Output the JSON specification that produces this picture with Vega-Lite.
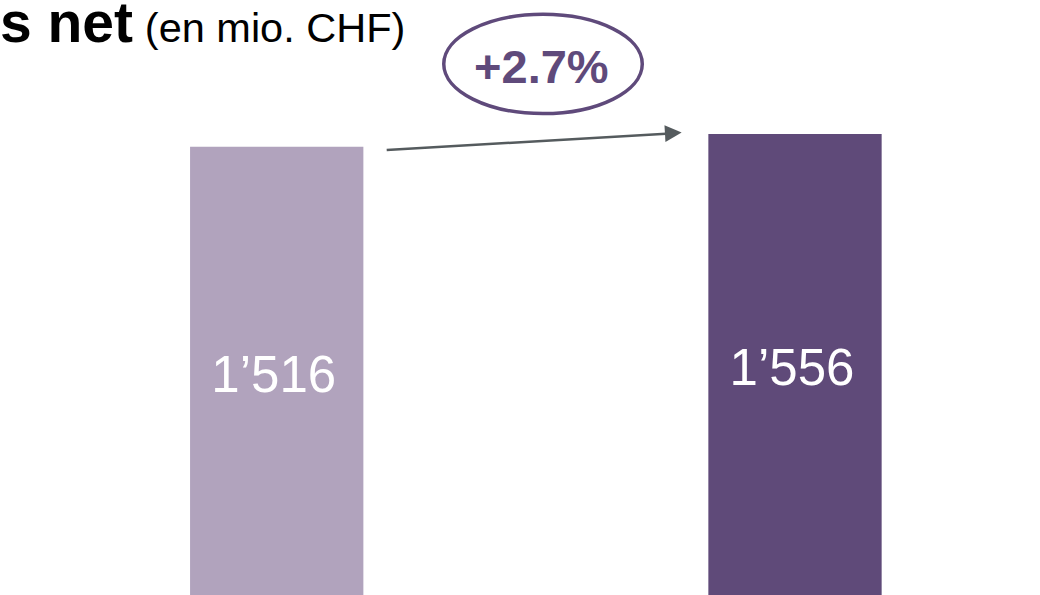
{
  "$schema": "https://vega.github.io/schema/vega-lite/v6.json",
  "width": 1040,
  "height": 595,
  "autosize": "none",
  "padding": 0,
  "background": "white",
  "config": {"view": {"stroke": null}, "font": "Liberation Sans"},
  "resolve": {"scale": {"y": "independent"}},
  "datasets": {
    "bars": [
      {"period": 0, "value": 1516, "label": "1’516"},
      {"period": 1, "value": 1556, "label": "1’556"}
    ],
    "arrow": [
      {"x": 0.2122, "y": 1505.6, "x2": 0.7511, "y2": 1556.6}
    ],
    "head": [
      {"x": 0.7652, "y": 1558.8}
    ],
    "badge": [
      {"x": 0.5138, "y": 1776.5, "tx": 0.5106, "ty": 1715.6, "text": "+2.7%"}
    ],
    "titles": [
      {"x": -0.5339, "y": 1846.7, "text": "s net", "part": "main"},
      {"x": -0.2545, "y": 1846.7, "text": "(en mio. CHF)", "part": "unit"}
    ]
  },
  "layer": [
    {
      "data": {"name": "bars"},
      "mark": {"type": "bar", "width": 173.3, "clip": true},
      "encoding": {
        "x": {"field": "period", "type": "quantitative", "scale": {"domain": [-0.5339, 1.4727], "nice": false, "zero": false, "padding": 0}, "axis": null},
        "y": {"field": "value", "type": "quantitative", "scale": {"domain": [104, 1978], "nice": false, "zero": false, "padding": 0}, "axis": null},
        "color": {"field": "period", "type": "nominal", "scale": {"range": ["#B1A3BD", "#5F4A79"]}, "legend": null}
      }
    },
    {
      "data": {"name": "bars"},
      "mark": {"type": "text", "fontSize": 51, "fill": "#FFFFFF", "align": "center", "baseline": "alphabetic", "dx": -3},
      "encoding": {
        "x": {"field": "period", "type": "quantitative", "scale": {"domain": [-0.5339, 1.4727], "nice": false, "zero": false, "padding": 0}, "axis": null},
        "y": {"field": "value", "type": "quantitative", "scale": {"domain": [302, 3854], "nice": false, "zero": false, "padding": 0}, "axis": null},
        "text": {"field": "label"}
      }
    },
    {
      "data": {"name": "arrow"},
      "mark": {"type": "rule", "stroke": "#555B5E", "strokeWidth": 2.5},
      "encoding": {
        "x": {"field": "x", "type": "quantitative", "scale": {"domain": [-0.5339, 1.4727], "nice": false, "zero": false, "padding": 0}, "axis": null},
        "y": {"field": "y", "type": "quantitative", "scale": {"domain": [104, 1978], "nice": false, "zero": false, "padding": 0}, "axis": null},
        "x2": {"field": "x2"},
        "y2": {"field": "y2"}
      }
    },
    {
      "data": {"name": "head"},
      "mark": {"type": "point", "shape": "M -1 -1 L 1 0 L -1 1 Z", "size": 279, "angle": -3.36, "filled": true, "fill": "#555B5E", "opacity": 1, "strokeWidth": 0},
      "encoding": {
        "x": {"field": "x", "type": "quantitative", "scale": {"domain": [-0.5339, 1.4727], "nice": false, "zero": false, "padding": 0}, "axis": null},
        "y": {"field": "y", "type": "quantitative", "scale": {"domain": [104, 1978], "nice": false, "zero": false, "padding": 0}, "axis": null}
      }
    },
    {
      "data": {"name": "badge"},
      "mark": {"type": "point", "shape": "M -1 0 C -1 -0.2762 -0.5523 -0.5 0 -0.5 C 0.5523 -0.5 1 -0.2762 1 0 C 1 0.2762 0.5523 0.5 0 0.5 C -0.5523 0.5 -1 0.2762 -1 0 Z", "size": 39402, "filled": false, "stroke": "#5F4A7B", "strokeWidth": 3.5, "opacity": 1},
      "encoding": {
        "x": {"field": "x", "type": "quantitative", "scale": {"domain": [-0.5339, 1.4727], "nice": false, "zero": false, "padding": 0}, "axis": null},
        "y": {"field": "y", "type": "quantitative", "scale": {"domain": [104, 1978], "nice": false, "zero": false, "padding": 0}, "axis": null}
      }
    },
    {
      "data": {"name": "badge"},
      "mark": {"type": "text", "fontSize": 47, "fontWeight": "bold", "fill": "#5F4A7B", "align": "center", "baseline": "alphabetic"},
      "encoding": {
        "x": {"field": "tx", "type": "quantitative", "scale": {"domain": [-0.5339, 1.4727], "nice": false, "zero": false, "padding": 0}, "axis": null},
        "y": {"field": "ty", "type": "quantitative", "scale": {"domain": [104, 1978], "nice": false, "zero": false, "padding": 0}, "axis": null},
        "text": {"field": "text"}
      }
    },
    {
      "data": {"name": "titles"},
      "transform": [{"filter": "datum.part === 'main'"}],
      "mark": {"type": "text", "fontSize": 57, "fontWeight": "bold", "fill": "#000000", "align": "left", "baseline": "alphabetic"},
      "encoding": {
        "x": {"field": "x", "type": "quantitative", "scale": {"domain": [-0.5339, 1.4727], "nice": false, "zero": false, "padding": 0}, "axis": null},
        "y": {"field": "y", "type": "quantitative", "scale": {"domain": [104, 1978], "nice": false, "zero": false, "padding": 0}, "axis": null},
        "text": {"field": "text"}
      }
    },
    {
      "data": {"name": "titles"},
      "transform": [{"filter": "datum.part === 'unit'"}],
      "mark": {"type": "text", "fontSize": 41.5, "fill": "#000000", "align": "left", "baseline": "alphabetic"},
      "encoding": {
        "x": {"field": "x", "type": "quantitative", "scale": {"domain": [-0.5339, 1.4727], "nice": false, "zero": false, "padding": 0}, "axis": null},
        "y": {"field": "y", "type": "quantitative", "scale": {"domain": [104, 1978], "nice": false, "zero": false, "padding": 0}, "axis": null},
        "text": {"field": "text"}
      }
    }
  ]
}
